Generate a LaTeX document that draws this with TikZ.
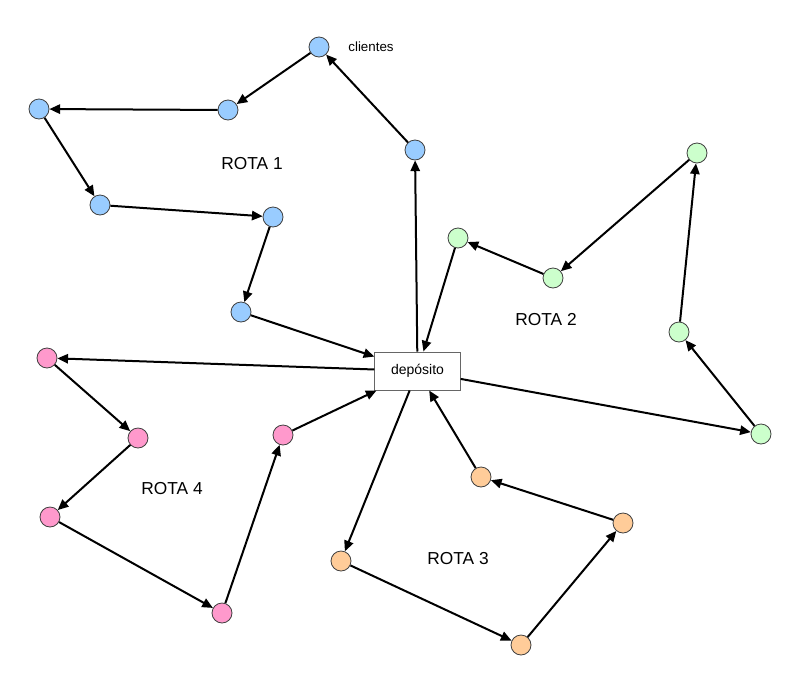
\documentclass[tikz,border=0pt]{standalone}
\usepackage{fontspec}
\setmainfont{Liberation Sans}
\usetikzlibrary{arrows.meta}

\definecolor{azul}{RGB}{153,204,255}
\definecolor{verde}{RGB}{204,255,204}
\definecolor{rosa}{RGB}{255,153,204}
\definecolor{laranja}{RGB}{255,204,153}

\tikzset{every picture/.style={line width=0.75pt}}
\tikzset{
  cliente/.style={circle,draw=black!75,line width=0.6pt,minimum size=15pt,inner sep=0pt},
  rota/.style={draw=black,line width=1.5pt,-{Triangle[length=8pt,width=7pt]}},
  deposito/.style={draw=black!60,fill=white,minimum width=64pt,minimum height=28.5pt,font=\fontsize{10.5}{12}\selectfont},
  rotulo/.style={font=\fontsize{13}{15}\selectfont}
}

\begin{document}
\begin{tikzpicture}[x=0.75pt,y=0.75pt,yscale=-1,xscale=1]
\useasboundingbox (0,0) rectangle (800,686);

%Shape: Rectangle [depot]
\node [deposito] (dep) at (417.5,371) {depósito};

% Rota 1
\node [cliente,fill=azul] (b1) at (319,47) {};
\node [cliente,fill=azul] (b2) at (228,110) {};
\node [cliente,fill=azul] (b3) at (39,109) {};
\node [cliente,fill=azul] (b4) at (100,205) {};
\node [cliente,fill=azul] (b5) at (273,217) {};
\node [cliente,fill=azul] (b6) at (241,312) {};
\node [cliente,fill=azul] (b7) at (415,150) {};

% Rota 2
\node [cliente,fill=verde] (g1) at (458,238) {};
\node [cliente,fill=verde] (g2) at (553,278) {};
\node [cliente,fill=verde] (g3) at (697,153) {};
\node [cliente,fill=verde] (g4) at (679,332) {};
\node [cliente,fill=verde] (g5) at (761,434) {};

% Rota 3
\node [cliente,fill=laranja] (o1) at (341,561) {};
\node [cliente,fill=laranja] (o2) at (521,645) {};
\node [cliente,fill=laranja] (o3) at (623,523) {};
\node [cliente,fill=laranja] (o4) at (481,477) {};

% Rota 4
\node [cliente,fill=rosa] (p1) at (47,358) {};
\node [cliente,fill=rosa] (p2) at (138,438) {};
\node [cliente,fill=rosa] (p3) at (50,517) {};
\node [cliente,fill=rosa] (p4) at (222,613) {};
\node [cliente,fill=rosa] (p5) at (283,435) {};

%Straight Lines
\draw [rota] (dep) -- (b7);
\draw [rota] (b7) -- (b1);
\draw [rota] (b1) -- (b2);
\draw [rota] (b2) -- (b3);
\draw [rota] (b3) -- (b4);
\draw [rota] (b4) -- (b5);
\draw [rota] (b5) -- (b6);
\draw [rota] (b6) -- (dep);

\draw [rota] (dep) -- (g5);
\draw [rota] (g5) -- (g4);
\draw [rota] (g4) -- (g3);
\draw [rota] (g3) -- (g2);
\draw [rota] (g2) -- (g1);
\draw [rota] (g1) -- (dep);

\draw [rota] (dep) -- (o1);
\draw [rota] (o1) -- (o2);
\draw [rota] (o2) -- (o3);
\draw [rota] (o3) -- (o4);
\draw [rota] (o4) -- (dep);

\draw [rota] (dep) -- (p1);
\draw [rota] (p1) -- (p2);
\draw [rota] (p2) -- (p3);
\draw [rota] (p3) -- (p4);
\draw [rota] (p4) -- (p5);
\draw [rota] (p5) -- (dep);

% Text Node
\node [font=\fontsize{10}{12}\selectfont] (cli) at (371,47) {clientes};
% Text Node
\node [rotulo] (r1) at (252,164) {ROTA 1};
% Text Node
\node [rotulo] (r2) at (546,320) {ROTA 2};
% Text Node
\node [rotulo] (r3) at (458,559) {ROTA 3};
% Text Node
\node [rotulo] (r4) at (172,489) {ROTA 4};

\end{tikzpicture}
\end{document}
